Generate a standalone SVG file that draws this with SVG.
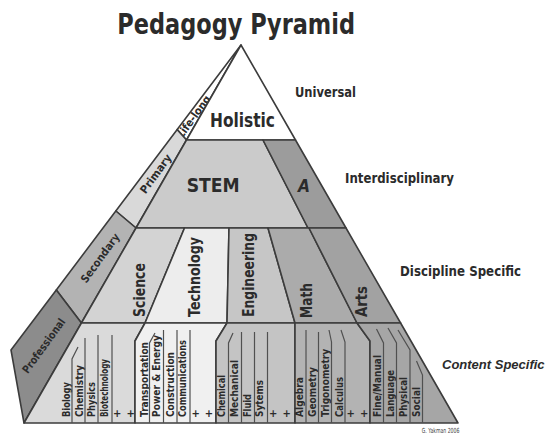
<svg xmlns="http://www.w3.org/2000/svg" width="556" height="434" viewBox="0 0 556 434">
  <style>
    .face { stroke: #3c3c3c; stroke-width: 1.6; stroke-linejoin: round; }
    .div { fill: none; stroke: #505050; stroke-width: 1.2; }
    text { font-family: "DejaVu Sans", "Liberation Sans", sans-serif; font-weight: bold; fill: #2b2b2b; }
    .title { font-size: 28px; }
    .big { font-size: 20px; }
    .disc { font-size: 16px; }
    .side { font-size: 11px; text-anchor: middle; dominant-baseline: central; }
    .leaf { font-size: 11px; }
    .plus { font-size: 10px; text-anchor: middle; }
    .lvl { font-size: 14px; }
    .narrow { font-family: "Liberation Sans", "DejaVu Sans", sans-serif; font-size: 13px; font-style: italic; }
    .credit { font-size: 7px; font-weight: normal; fill: #444; }
  </style>

  <rect width="556" height="434" fill="#ffffff"/>

  <text class="title" x="117.3" y="33.5" textLength="237.7" lengthAdjust="spacingAndGlyphs">Pedagogy Pyramid</text>

  <!-- left side face: learner stages -->
  <g id="lifelong">
    <polygon class="face" fill="#ffffff" points="241,45 177.2,129.6 186.5,140"/>
    <text class="side" font-size="10" transform="translate(193.8,117) rotate(-54)" textLength="50" lengthAdjust="spacingAndGlyphs">Life-long</text>
  </g>
  <g id="primary">
    <polygon class="face" fill="#d9d9d9" points="177.2,129.6 186.5,140 136,228 115.8,211"/>
    <text class="side" transform="translate(156,174) rotate(-54)" textLength="45.5" lengthAdjust="spacingAndGlyphs">Primary</text>
  </g>
  <g id="secondary">
    <polygon class="face" fill="#b3b3b3" points="115.8,211 136,228 81.4,323 56.3,290"/>
    <text class="side" transform="translate(100.3,258.3) rotate(-54)" textLength="57.8" lengthAdjust="spacingAndGlyphs">Secondary</text>
  </g>
  <g id="professional">
    <polygon class="face" fill="#8c8c8c" points="56.3,290 81.4,323 24,423 11,350"/>
    <text class="side" transform="translate(44,346) rotate(-54)" textLength="64.8" lengthAdjust="spacingAndGlyphs">Professional</text>
  </g>

  <!-- front face, top tier -->
  <g id="holistic">
    <polygon class="face" fill="#ffffff" points="241,45 186.5,140 295.5,140"/>
    <text class="big" x="210" y="126.5" textLength="65" lengthAdjust="spacingAndGlyphs">Holistic</text>
  </g>

  <!-- interdisciplinary tier -->
  <g id="stem">
    <polygon class="face" fill="#cbcbcb" points="186.5,140 263,140 308,228 136,228"/>
    <text class="big" x="186.7" y="191.7" font-size="21" textLength="53" lengthAdjust="spacingAndGlyphs">STEM</text>
  </g>
  <g id="a">
    <polygon class="face" fill="#9c9c9c" points="263,140 295.5,140 346,228 308,228"/>
    <text x="298" y="192" font-size="17" font-style="italic" textLength="12" lengthAdjust="spacingAndGlyphs">A</text>
  </g>

  <!-- discipline tier -->
  <g id="science">
    <polygon class="face" fill="#d3d3d3" points="136,228 184.5,228 145,323 81.4,323"/>
    <text class="disc" transform="translate(145,317) rotate(-90)" textLength="54" lengthAdjust="spacingAndGlyphs">Science</text>
  </g>
  <g id="technology">
    <polygon class="face" fill="#ededed" points="184.5,228 229,228 227,323 145,323"/>
    <text class="disc" transform="translate(200,317) rotate(-90)" textLength="80" lengthAdjust="spacingAndGlyphs">Technology</text>
  </g>
  <g id="engineering">
    <polygon class="face" fill="#c6c6c6" points="229,228 268,228 295,323 227,323"/>
    <text class="disc" transform="translate(254,317) rotate(-90)" textLength="84" lengthAdjust="spacingAndGlyphs">Engineering</text>
  </g>
  <g id="math">
    <polygon class="face" fill="#ababab" points="268,228 309,228 357,323 295,323"/>
    <text class="disc" transform="translate(311.5,318) rotate(-90)" textLength="35" lengthAdjust="spacingAndGlyphs">Math</text>
  </g>
  <g id="arts">
    <polygon class="face" fill="#a2a2a2" points="309,228 346,228 400.6,323 357,323"/>
    <text class="disc" transform="translate(366.5,317) rotate(-90)" textLength="31" lengthAdjust="spacingAndGlyphs">Arts</text>
  </g>

  <!-- content tier -->
  <g id="science-content">
    <polygon class="face" fill="#dadada" points="81.4,323 145,323 135,341 135,423 24,423"/>
    <text class="leaf" transform="translate(69.5,417) rotate(-90)" textLength="35" lengthAdjust="spacingAndGlyphs">Biology</text>
    <text class="leaf" transform="translate(83,417) rotate(-90)" textLength="52" lengthAdjust="spacingAndGlyphs">Chemistry</text>
    <text class="leaf" transform="translate(95,417) rotate(-90)" textLength="35" lengthAdjust="spacingAndGlyphs">Physics</text>
    <text class="leaf" transform="translate(108,417) rotate(-90)" textLength="58" lengthAdjust="spacingAndGlyphs">Biotechnology</text>
    <text class="plus" x="117.3" y="416.5">+</text>
    <text class="plus" x="130.7" y="416.5">+</text>
  </g>
  <g id="technology-content">
    <polygon class="face" fill="#f0f0f0" points="145,323 227,323 216,341 216,423 135,423 135,341"/>
    <text class="leaf" transform="translate(148,417) rotate(-90)" textLength="75" lengthAdjust="spacingAndGlyphs">Transportation</text>
    <text class="leaf" transform="translate(159.7,417) rotate(-90)" textLength="82" lengthAdjust="spacingAndGlyphs">Power &amp; Energy</text>
    <text class="leaf" transform="translate(174,417) rotate(-90)" textLength="65" lengthAdjust="spacingAndGlyphs">Construction</text>
    <text class="leaf" transform="translate(186.3,417) rotate(-90)" textLength="77" lengthAdjust="spacingAndGlyphs">Communications</text>
    <text class="plus" x="195.7" y="416.5">+</text>
    <text class="plus" x="209" y="416.5">+</text>
  </g>
  <g id="engineering-content">
    <polygon class="face" fill="#c4c4c4" points="227,323 295,323 295,423 216,423 216,341"/>
    <text class="leaf" transform="translate(225.3,417) rotate(-90)" textLength="42" lengthAdjust="spacingAndGlyphs">Chemical</text>
    <text class="leaf" transform="translate(238,417) rotate(-90)" textLength="57" lengthAdjust="spacingAndGlyphs">Mechanical</text>
    <text class="leaf" transform="translate(250.7,417) rotate(-90)" textLength="23" lengthAdjust="spacingAndGlyphs">Fluid</text>
    <text class="leaf" transform="translate(263,417) rotate(-90)" textLength="37" lengthAdjust="spacingAndGlyphs">Sytems</text>
    <text class="plus" x="273.3" y="416.5">+</text>
    <text class="plus" x="286.7" y="416.5">+</text>
  </g>
  <g id="math-content">
    <polygon class="face" fill="#b3b3b3" points="295,323 357,323 370,341 370,423 295,423"/>
    <text class="leaf" transform="translate(303,417) rotate(-90)" textLength="40" lengthAdjust="spacingAndGlyphs">Algebra</text>
    <text class="leaf" transform="translate(316.3,417) rotate(-90)" textLength="50" lengthAdjust="spacingAndGlyphs">Geometry</text>
    <text class="leaf" transform="translate(329,417) rotate(-90)" textLength="68" lengthAdjust="spacingAndGlyphs">Trigonometry</text>
    <text class="leaf" transform="translate(343,417) rotate(-90)" textLength="40" lengthAdjust="spacingAndGlyphs">Calculus</text>
    <text class="plus" x="350.7" y="416.5">+</text>
    <text class="plus" x="364.3" y="416.5">+</text>
  </g>
  <g id="arts-content">
    <polygon class="face" fill="#a6a6a6" points="357,323 400.6,323 458,423 370,423 370,341"/>
    <text class="leaf" transform="translate(381,417) rotate(-90)" textLength="62" lengthAdjust="spacingAndGlyphs">Fine/Manual</text>
    <text class="leaf" transform="translate(394,417) rotate(-90)" textLength="47" lengthAdjust="spacingAndGlyphs">Language</text>
    <text class="leaf" transform="translate(407.3,417) rotate(-90)" textLength="40" lengthAdjust="spacingAndGlyphs">Physical</text>
    <text class="leaf" transform="translate(419.7,417) rotate(-90)" textLength="30" lengthAdjust="spacingAndGlyphs">Social</text>
  </g>

  <!-- column dividers inside the content tier -->
  <g id="dividers">
    <polyline class="div" points="78,347 72,359 72,423"/>
    <polyline class="div" points="85,338 85,423"/>
    <polyline class="div" points="98,335 98,423"/>
    <polyline class="div" points="112,335 112,423"/>
    <polyline class="div" points="155,333 149.5,343 149.5,423"/>
    <polyline class="div" points="163.5,330 163.5,423"/>
    <polyline class="div" points="177,330 177,423"/>
    <polyline class="div" points="190,330 190,423"/>
    <polyline class="div" points="233,333 228.5,343 228.5,423"/>
    <polyline class="div" points="241.5,332 241.5,423"/>
    <polyline class="div" points="254.5,332 254.5,423"/>
    <polyline class="div" points="267.5,332 267.5,423"/>
    <polyline class="div" points="306,330 306,423"/>
    <polyline class="div" points="318.5,332 318.5,423"/>
    <polyline class="div" points="329,330 331.5,342 331.5,423"/>
    <polyline class="div" points="341,330 345,342 345,423"/>
    <polyline class="div" points="376.5,329 383.5,343 383.5,423"/>
    <polyline class="div" points="388,328 396.5,343 396.5,423"/>
    <polyline class="div" points="398,330 410,350 410,423"/>
    <polyline class="div" points="416.5,361 422.5,375 422.5,423"/>
  </g>

  <!-- tier names -->
  <g id="levels">
    <text class="lvl" x="295" y="97" textLength="61" lengthAdjust="spacingAndGlyphs">Universal</text>
    <text class="lvl" x="345" y="183" textLength="109" lengthAdjust="spacingAndGlyphs">Interdisciplinary</text>
    <text class="lvl" x="400" y="275.5" textLength="121" lengthAdjust="spacingAndGlyphs">Discipline Specific</text>
    <text class="narrow" x="442" y="368.5">Content Specific</text>
  </g>

  <text class="credit" x="421.7" y="433" textLength="37.7" lengthAdjust="spacingAndGlyphs">G. Yakman 2006</text>
</svg>
